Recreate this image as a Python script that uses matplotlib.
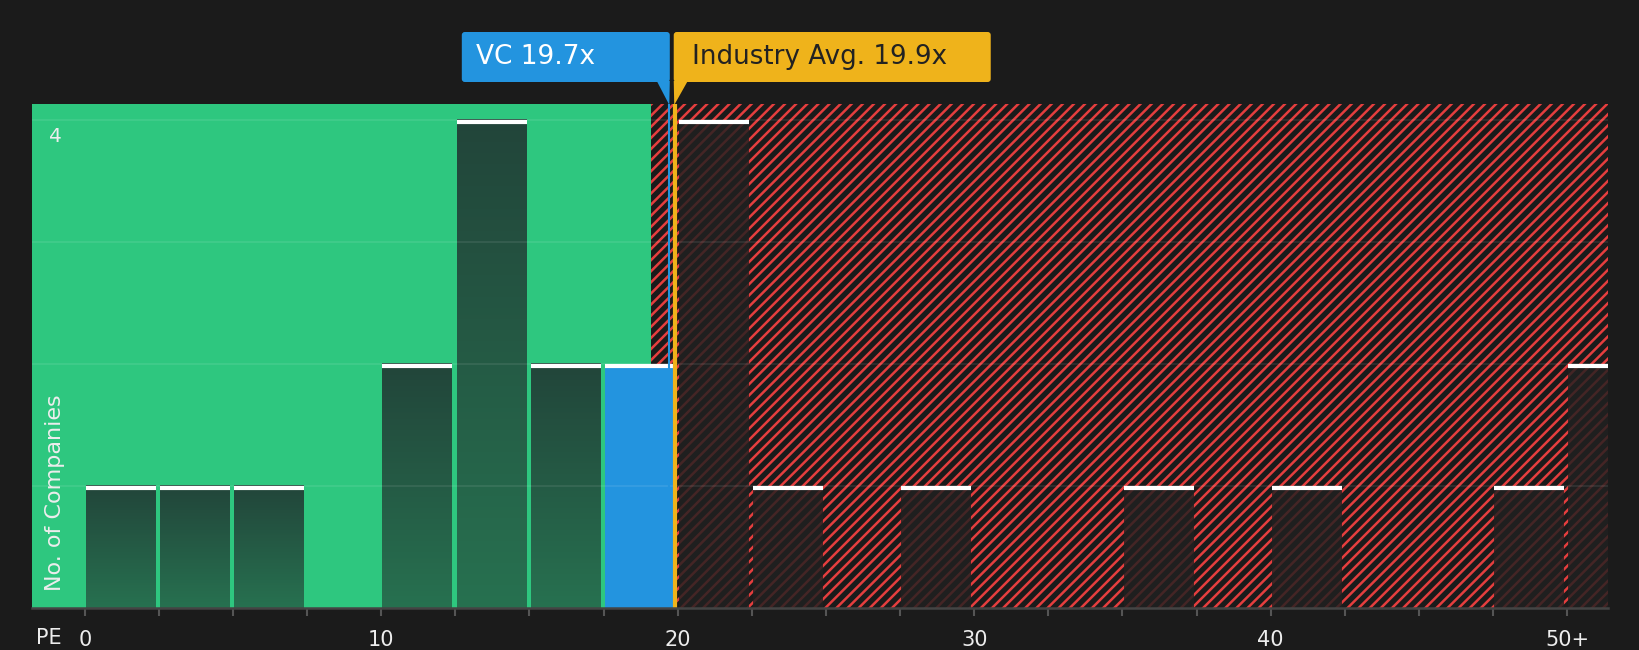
import numpy as np
import matplotlib
matplotlib.use("Agg")
import matplotlib.pyplot as plt
from matplotlib.colors import LinearSegmentedColormap
from matplotlib.patches import FancyBboxPatch, Polygon
from matplotlib.transforms import IdentityTransform

# ── colours ───────────────────────────────────────────────────────────────────
BG_COLOR     = "#1B1B1B"
GREEN_COLOR  = "#2EC77F"
RED_COLOR    = "#E53E3E"
VC_COLOR     = "#2394DF"
IND_COLOR    = "#EFB31B"
TEXT_COLOR   = "#EDEDED"

# ── data ──────────────────────────────────────────────────────────────────────
BIN_STARTS = [0, 2.5, 5, 7.5, 10, 12.5, 15, 17.5, 20, 22.5, 25,
              27.5, 30, 32.5, 35, 37.5, 40, 42.5, 45, 47.5, 50]
COUNTS     = [1, 1, 1, 0, 2, 4, 2, 2, 4, 1, 0,
              1, 0, 0, 1, 0, 1, 0, 0, 1, 2]
BIN_WIDTH = 2.5
VC_PE = 19.7
INDUSTRY_PE = 19.9
GREEN_UNTIL = 19.1
X_TICKS = [0, 10, 20, 30, 40, 50]
X_LABELS = ["0", "10", "20", "30", "40", "50+"]
Y_LABEL_TICKS = [4]

W, H = 1640, 650
fig = plt.figure(figsize=(W / 100, H / 100), dpi=100, facecolor=BG_COLOR)
ax = fig.add_axes([32 / W, 42 / H, 1576 / W, 504 / H])
ax.set_facecolor(BG_COLOR)

XMIN, XMAX = -1.78, 51.38
YMAX = 4.13

plt.rcParams["hatch.linewidth"] = 1.8

# ── background zones ──
ax.axvspan(XMIN, GREEN_UNTIL, color=GREEN_COLOR, lw=0, zorder=0)
ax.axvspan(GREEN_UNTIL, XMAX, facecolor=BG_COLOR, edgecolor=RED_COLOR,
           hatch="///", lw=0, zorder=0)

# ── bars ──
grad_cmap = LinearSegmentedColormap.from_list("bar", ["#277150", "#22453A"])
grad = np.linspace(0, 1, 256).reshape(-1, 1)
gap = 0.04
bw = BIN_WIDTH - 0.14
for start, c in zip(BIN_STARTS, COUNTS):
    if c == 0:
        continue
    x0 = start + gap
    x1 = x0 + bw
    if start <= VC_PE < start + BIN_WIDTH:
        ax.bar(x0, c, width=bw, align="edge", color=VC_COLOR, lw=0, zorder=2)
    elif start < GREEN_UNTIL:
        ax.imshow(grad, extent=[x0, x1, 0, c], origin="lower", cmap=grad_cmap,
                  aspect="auto", zorder=2, interpolation="bilinear")
    else:
        ax.bar(x0, c, width=bw, align="edge", color="#202020", alpha=0.82,
               lw=0, zorder=2)
    ax.hlines(c - 0.015, x0, x1, color="white", lw=3, zorder=4)

# ── markers ──
ax.axvline(VC_PE, color=VC_COLOR, lw=1.5, zorder=5)
ax.axvline(INDUSTRY_PE, color=IND_COLOR, lw=3, zorder=5)

# ── axes styling ──
ax.set_xlim(XMIN, XMAX)
ax.set_ylim(0, YMAX)
ax.set_yticks([1, 2, 3, 4])
ax.set_yticklabels([])
ax.tick_params(axis="y", length=0)
ax.grid(axis="y", color="white", alpha=0.08, lw=1.5, zorder=3)
ax.set_axisbelow(False)

ax.set_xticks(BIN_STARTS, minor=True)
ax.set_xticks(X_TICKS)
ax.set_xticklabels(X_LABELS, fontsize=15, color=TEXT_COLOR)
ax.tick_params(axis="x", which="both", length=6, width=1.5, color="#555555",
               pad=10)

for side in ("top", "right", "left"):
    ax.spines[side].set_visible(False)
ax.spines["bottom"].set_color("#444444")
ax.spines["bottom"].set_linewidth(1.8)
ax.spines["bottom"].set_zorder(6)

for v in Y_LABEL_TICKS:
    ax.text(-1.0, v - 0.06, str(v), color=TEXT_COLOR, fontsize=14.5,
            ha="center", va="top", zorder=7)
ax.text(-1.0, 0.14, "No. of Companies", rotation=90, color=TEXT_COLOR,
        fontsize=16, ha="center", va="bottom", zorder=7)
fig.text(36 / W, 1 - 638 / H, "PE", color=TEXT_COLOR, fontsize=15,
         ha="left", va="center")

# ── callout boxes (pixel coordinates) ──
px_vc = ax.transData.transform((VC_PE, 0))[0]
px_ind = ax.transData.transform((INDUSTRY_PE, 0))[0]
box_bot, box_top = H - 82, H - 32
tip_y = H - 105
ident = IdentityTransform()

vc_box = FancyBboxPatch((px_vc - 207, box_bot), 208, box_top - box_bot,
                        boxstyle="round,pad=0,rounding_size=3",
                        fc=VC_COLOR, ec="none", transform=ident)
fig.add_artist(vc_box)
fig.add_artist(Polygon([(px_vc - 12, box_bot + 1), (px_vc + 1, box_bot + 1),
                        (px_vc + 0.5, tip_y)], closed=True, fc=VC_COLOR,
                       ec="none", transform=ident))
fig.text((px_vc - 193) / W, (box_bot + box_top) / 2 / H, f"VC {VC_PE}x",
         color="white", fontsize=19, ha="left", va="center")

ind_box = FancyBboxPatch((px_ind - 1, box_bot), 317, box_top - box_bot,
                         boxstyle="round,pad=0,rounding_size=3",
                         fc=IND_COLOR, ec="none", transform=ident)
fig.add_artist(ind_box)
fig.add_artist(Polygon([(px_ind - 1, box_bot + 1), (px_ind + 13, box_bot + 1),
                        (px_ind - 0.5, tip_y)], closed=True, fc=IND_COLOR,
                       ec="none", transform=ident))
fig.text((px_ind + 17) / W, (box_bot + box_top) / 2 / H,
         f"Industry Avg. {INDUSTRY_PE}x", color="#222222", fontsize=18.8,
         ha="left", va="center")

fig.savefig("out.png", dpi=100, facecolor=BG_COLOR)
